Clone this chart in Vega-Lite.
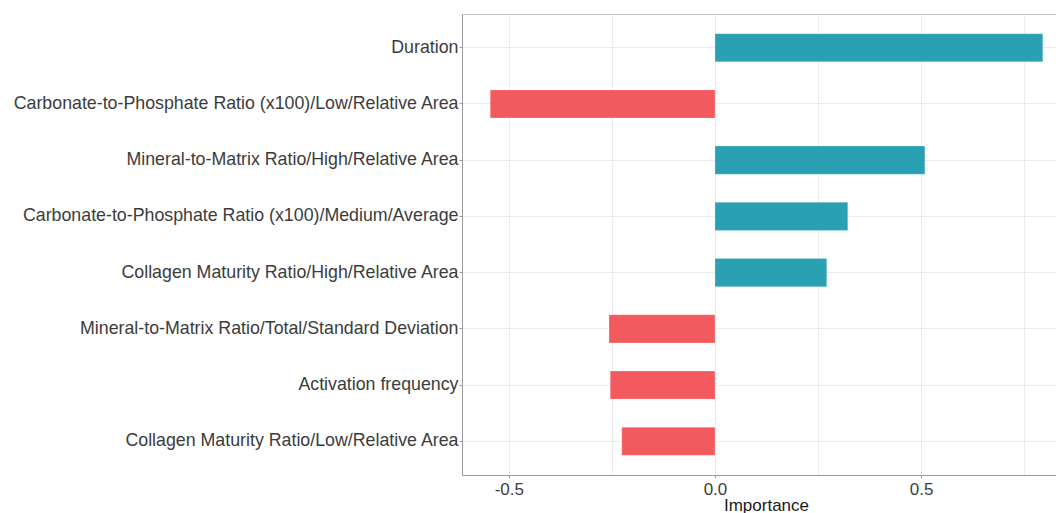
{
  "$schema": "https://vega.github.io/schema/vega-lite/v6.json",
  "autosize": {"type": "none"},
  "padding": {"left": 462, "top": 14, "right": 0, "bottom": 38},
  "width": 594,
  "height": 461,
  "background": "white",
  "config": {
    "view": {"stroke": "#c4c4c4", "strokeWidth": 1},
    "font": "Liberation Sans",
    "axis": {
      "labelFont": "Liberation Sans",
      "titleFont": "Liberation Sans",
      "labelColor": "#3c3c3c",
      "titleColor": "#1a1a1a",
      "labelFontSize": 17,
      "titleFontSize": 17,
      "titleFontWeight": "normal",
      "gridColor": "#ebebeb",
      "gridWidth": 1,
      "domainColor": "#9a9a9a",
      "tickColor": "#9a9a9a",
      "tickSize": 4
    }
  },
  "data": {
    "values": [
      {"feature": "Duration", "importance": 0.795},
      {"feature": "Carbonate-to-Phosphate Ratio (x100)/Low/Relative Area", "importance": -0.545},
      {"feature": "Mineral-to-Matrix Ratio/High/Relative Area", "importance": 0.509},
      {"feature": "Carbonate-to-Phosphate Ratio (x100)/Medium/Average", "importance": 0.322},
      {"feature": "Collagen Maturity Ratio/High/Relative Area", "importance": 0.271},
      {"feature": "Mineral-to-Matrix Ratio/Total/Standard Deviation", "importance": -0.257},
      {"feature": "Activation frequency", "importance": -0.254},
      {"feature": "Collagen Maturity Ratio/Low/Relative Area", "importance": -0.226}
    ]
  },
  "mark": {"type": "bar", "strokeWidth": 0.6, "stroke": "#ffffff", "strokeOpacity": 0.35},
  "encoding": {
    "y": {
      "field": "feature",
      "type": "nominal",
      "sort": null,
      "title": null,
      "scale": {"paddingInner": 0.5, "paddingOuter": 0.35},
      "axis": {"grid": true, "labelFontSize": 17.8, "tickSize": 3, "labelPadding": 1, "labelLimit": 600, "domain": true, "domainColor": "#9a9a9a"}
    },
    "x": {
      "field": "importance",
      "type": "quantitative",
      "title": "Importance",
      "scale": {"domain": [-0.6135, 0.827], "nice": false, "zero": false},
      "axis": {
        "values": [-0.5, -0.25, 0, 0.25, 0.5, 0.75],
        "labelExpr": "abs(datum.value * 2 - round(datum.value * 2)) < 0.001 ? replace(format(datum.value, '.1f'), '\u2212', '-') : ''",
        "tickOpacity": {"condition": {"test": "abs(datum.value * 2 - round(datum.value * 2)) < 0.001", "value": 1}, "value": 0},
        "tickSize": 3,
        "labelPadding": 3,
        "titlePadding": 0,
        "titleX": 304,
        "titleAnchor": "middle",
        "labelFlush": false
      }
    },
    "color": {
      "condition": {"test": "datum.importance > 0", "value": "#2aa1b3"},
      "value": "#f35a5f"
    }
  }
}
